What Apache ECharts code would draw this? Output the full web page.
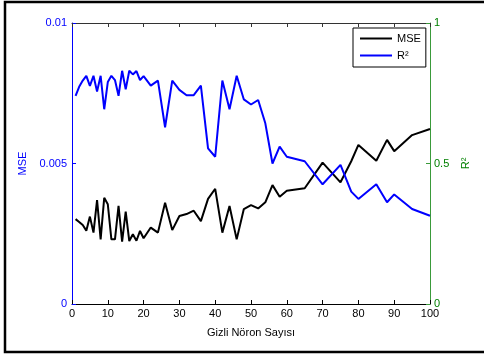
<!DOCTYPE html>
<html>
<head>
<meta charset="utf-8">
<script src="https://cdn.jsdelivr.net/npm/echarts@6/dist/echarts.min.js"></script>
<style>
  html, body { margin: 0; padding: 0; background: #fff; }
  #chart { width: 484px; height: 356px; }
</style>
</head>
<body>
<div id="chart"></div>
<script>
// gizli nöron sayısı (x)
var neurons = [1, 2, 3, 4, 5, 6, 7, 8, 9, 10, 11, 12, 13, 14, 15, 16, 17, 18, 19, 20,
  22, 24, 26, 28, 30, 32, 34, 36, 38, 40, 42, 44, 46, 48, 50, 52, 54, 56, 58, 60,
  65, 70, 75, 78, 80, 85, 88, 90, 95, 100];

var mseValues = [0.00302, 0.00292, 0.00281, 0.00261, 0.00311, 0.00254, 0.00370, 0.00230, 0.00378, 0.00355,
  0.00230, 0.00230, 0.00349, 0.00222, 0.00329, 0.00224, 0.00248, 0.00225, 0.00260, 0.00234,
  0.00272, 0.00254, 0.00360, 0.00263, 0.00313, 0.00320, 0.00332, 0.00295, 0.00374, 0.00410,
  0.00254, 0.00349, 0.00230, 0.00338, 0.00352, 0.00340, 0.00362, 0.00423, 0.00382, 0.00403,
  0.00412, 0.00503, 0.00433, 0.00508, 0.00566, 0.00510, 0.00584, 0.00544, 0.00601, 0.00623];

var r2Values = [0.741, 0.773, 0.795, 0.812, 0.776, 0.812, 0.756, 0.812, 0.693, 0.790,
  0.812, 0.797, 0.741, 0.830, 0.764, 0.830, 0.817, 0.829, 0.797, 0.811,
  0.777, 0.795, 0.629, 0.795, 0.762, 0.743, 0.743, 0.777, 0.554, 0.524,
  0.795, 0.693, 0.812, 0.728, 0.710, 0.726, 0.643, 0.500, 0.560, 0.524,
  0.508, 0.426, 0.495, 0.400, 0.374, 0.426, 0.362, 0.390, 0.338, 0.314];

var font = "'Liberation Sans', Arial, sans-serif";
var blue = "#0000ff";
var green = "#008000";

var myChart = echarts.init(document.getElementById("chart"));

var option = {
  animation: false,
  grid: {
    left: 72,
    right: 54,
    top: 23,
    bottom: 52,
  },
  graphic: [
    {
      type: "rect",
      shape: { x: 5, y: 2, width: 490, height: 350 },
      style: { fill: "none", stroke: "#000", lineWidth: 2.5 },
      silent: true,
    },
  ],
  legend: {
    orient: "vertical",
    left: 353,
    top: 28,
    padding: [4, 5, 5, 7],
    itemGap: 4,
    itemWidth: 32,
    itemHeight: 2,
    icon: "rect",
    backgroundColor: "#fff",
    borderColor: "#000",
    borderWidth: 1,
    borderRadius: 0,
    textStyle: { fontFamily: font, fontSize: 11, color: "#000", lineHeight: 13 },
    data: ["MSE", "R²"],
  },
  xAxis: [
    {
      type: "value",
      min: 0,
      max: 100,
      interval: 10,
      name: "Gizli Nöron Sayısı",
      nameLocation: "middle",
      nameGap: 23,
      nameTextStyle: { fontFamily: font, fontSize: 11, color: "#000" },
      axisLine: { onZero: false, lineStyle: { color: "#000", width: 1 } },
      axisTick: { inside: true, length: 4, lineStyle: { color: "#000" } },
      axisLabel: { fontFamily: font, fontSize: 11, color: "#000", margin: 4 },
      splitLine: { show: false },
    },
    {
      type: "value",
      position: "top",
      min: 0,
      max: 100,
      interval: 10,
      axisLine: { show: true, onZero: false, lineStyle: { color: "#333", width: 1 } },
      axisTick: { inside: true, length: 4, lineStyle: { color: "#333" } },
      axisLabel: { show: false },
      splitLine: { show: false },
    },
  ],
  yAxis: [
    {
      type: "value",
      position: "left",
      min: 0,
      max: 0.01,
      interval: 0.005,
      name: "MSE",
      nameLocation: "middle",
      nameGap: 42,
      nameRotate: 90,
      nameTextStyle: { fontFamily: font, fontSize: 11, color: blue },
      axisLine: { show: true, onZero: false, lineStyle: { color: blue, width: 1 } },
      axisTick: { show: true, inside: true, length: 4, lineStyle: { color: blue } },
      axisLabel: { fontFamily: font, fontSize: 11, color: blue, margin: 5 },
      splitLine: { show: false },
    },
    {
      type: "value",
      position: "right",
      min: 0,
      max: 1,
      interval: 0.5,
      name: "R²",
      nameLocation: "middle",
      nameGap: 24,
      nameRotate: 90,
      nameTextStyle: { fontFamily: font, fontSize: 11, color: green },
      axisLine: { show: true, onZero: false, lineStyle: { color: "#3a9a3a", width: 1 } },
      axisTick: { show: true, inside: true, length: 4, lineStyle: { color: "#3a9a3a" } },
      axisLabel: { fontFamily: font, fontSize: 11, color: green, margin: 4 },
      splitLine: { show: false },
    },
  ],
  series: [
    {
      name: "MSE",
      type: "line",
      xAxisIndex: 0,
      yAxisIndex: 0,
      symbol: "none",
      color: "#000",
      lineStyle: { width: 2, color: "#000" },
      data: neurons.map(function (n, i) {
        return [n, mseValues[i]];
      }),
    },
    {
      name: "R²",
      type: "line",
      xAxisIndex: 0,
      yAxisIndex: 1,
      symbol: "none",
      color: blue,
      lineStyle: { width: 2, color: blue },
      data: neurons.map(function (n, i) {
        return [n, r2Values[i]];
      }),
    },
  ],
};

myChart.setOption(option);
</script>
</body>
</html>
